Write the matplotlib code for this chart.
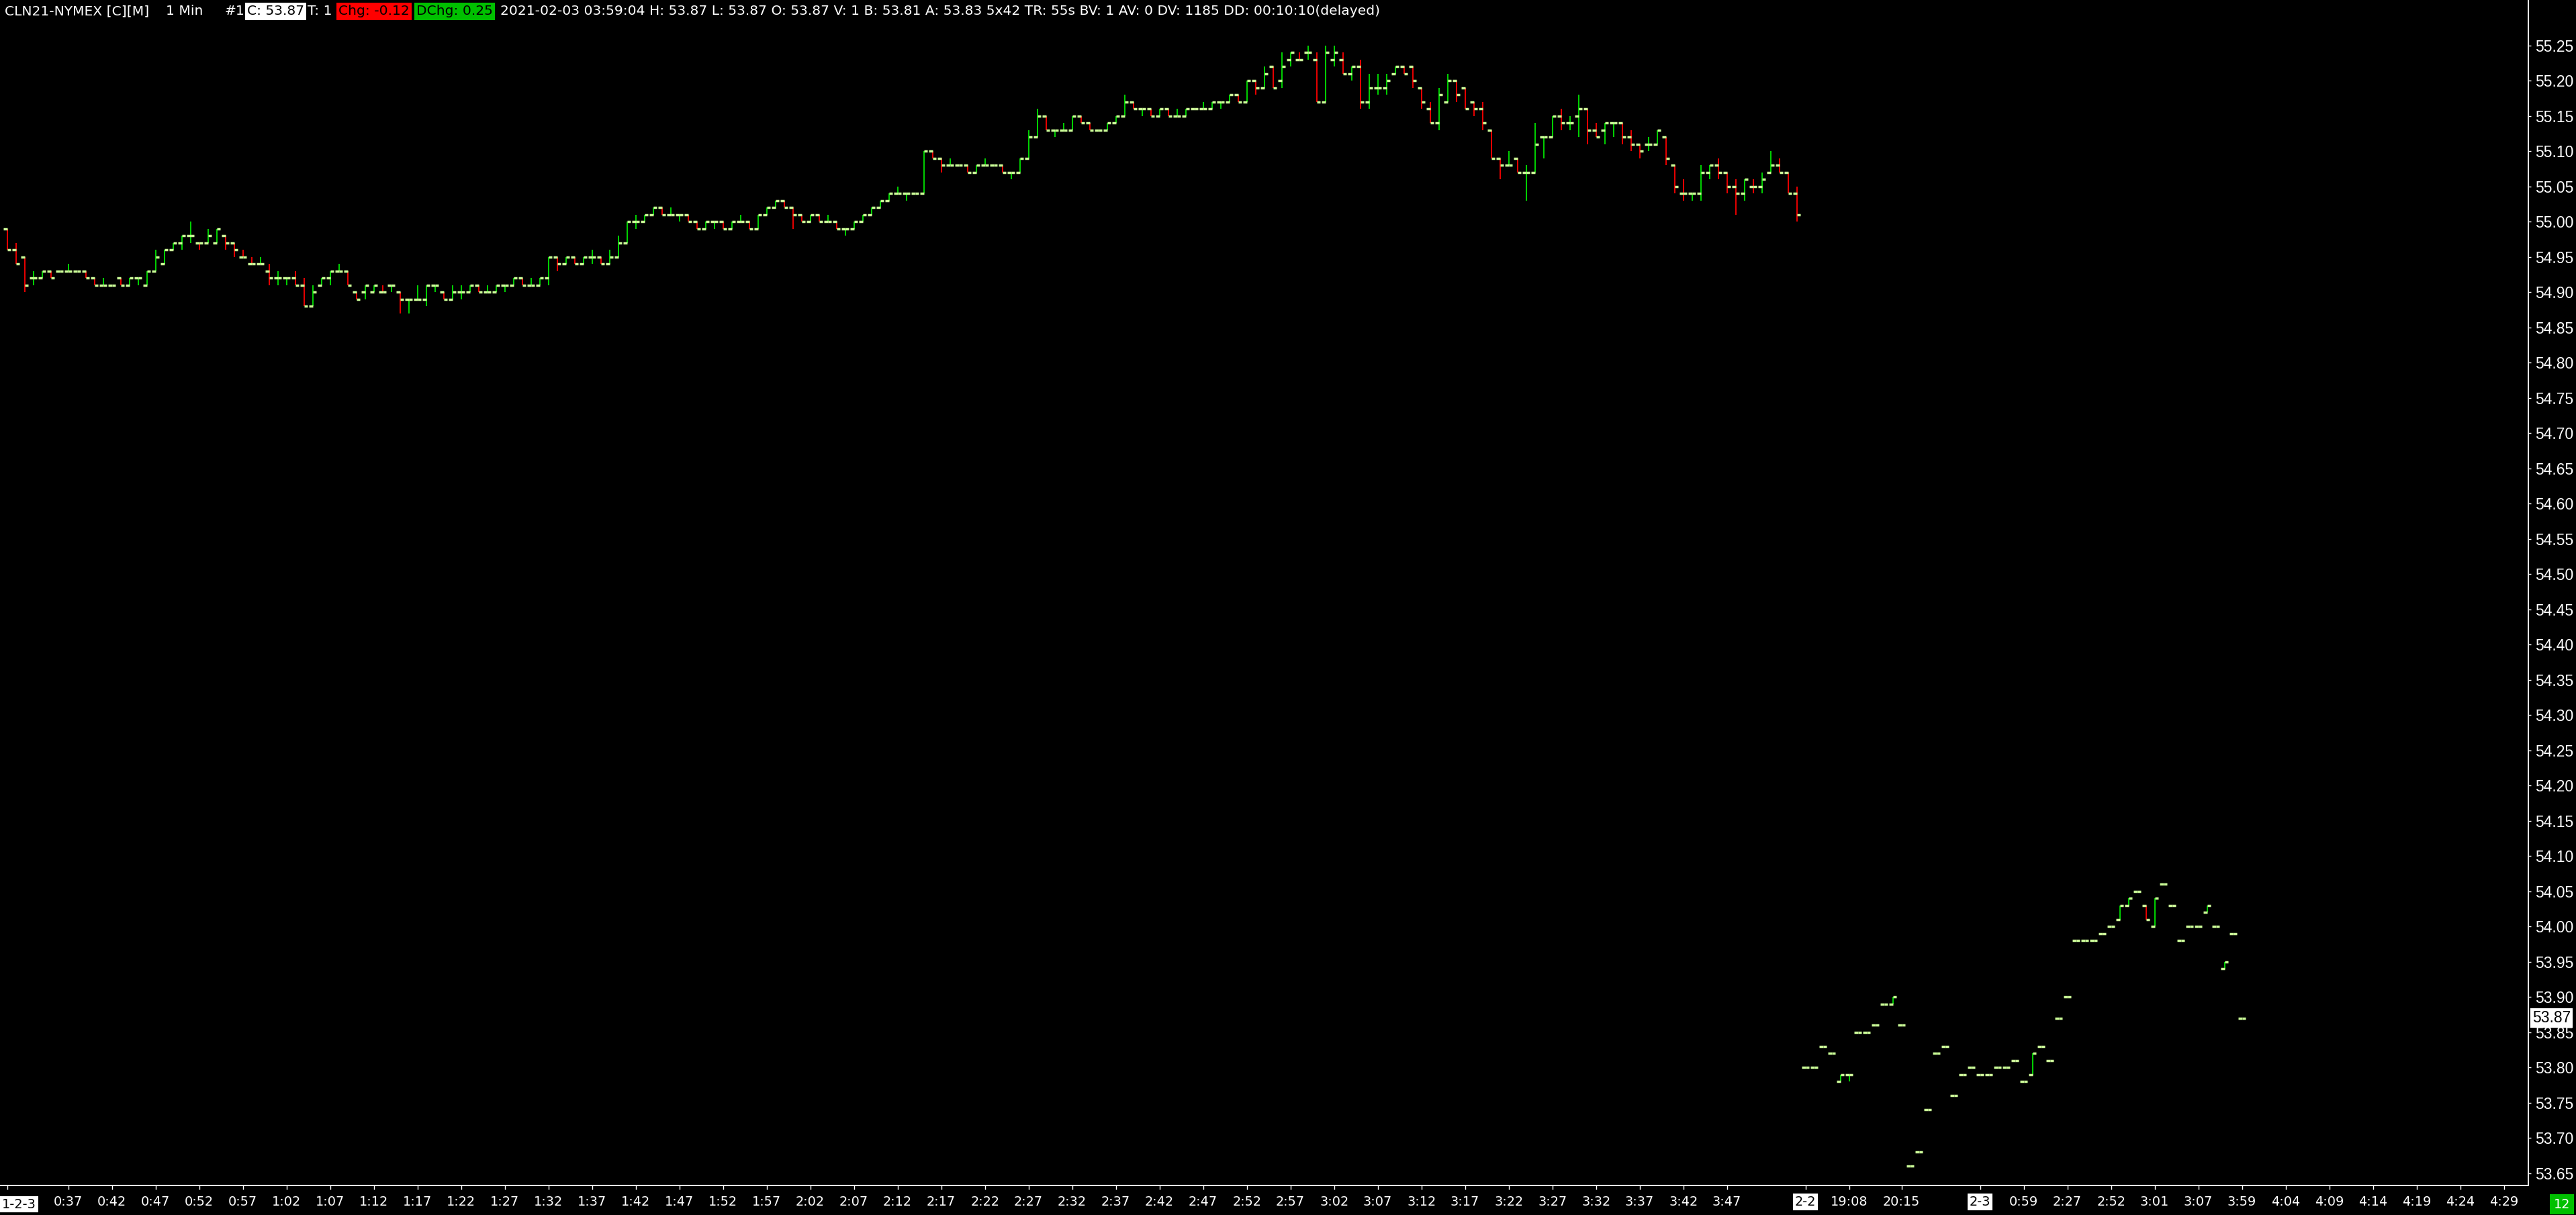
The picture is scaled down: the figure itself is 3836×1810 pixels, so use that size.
import numpy as np
import matplotlib
matplotlib.use("Agg")
import matplotlib.pyplot as plt
from matplotlib import font_manager

# ---- data: 1 min bars, first session (1-2-3 0:30 .. 3:55) ----
s1_open = [
    54.99, 54.96, 54.95, 54.92, 54.92, 54.93, 54.93, 54.93, 54.93, 54.93,
    54.92, 54.91, 54.91, 54.92, 54.91, 54.92, 54.91, 54.93, 54.94, 54.96,
    54.97, 54.98, 54.97, 54.97, 54.97, 54.98, 54.97, 54.95, 54.94, 54.94,
    54.93, 54.92, 54.92, 54.92, 54.91, 54.88, 54.91, 54.92, 54.93, 54.93,
    54.90, 54.90, 54.90, 54.90, 54.91, 54.90, 54.89, 54.89, 54.89, 54.91,
    54.90, 54.89, 54.90, 54.90, 54.91, 54.90, 54.90, 54.91, 54.91, 54.92,
    54.91, 54.91, 54.92, 54.95, 54.94, 54.95, 54.94, 54.95, 54.95, 54.94,
    54.95, 54.97, 55.00, 55.00, 55.01, 55.02, 55.01, 55.01, 55.01, 55.00,
    54.99, 55.00, 55.00, 54.99, 55.00, 55.00, 54.99, 55.01, 55.02, 55.03,
    55.02, 55.01, 55.00, 55.01, 55.00, 55.00, 54.99, 54.99, 55.00, 55.01,
    55.02, 55.03, 55.04, 55.04, 55.04, 55.04, 55.10, 55.09, 55.08, 55.08,
    55.08, 55.07, 55.08, 55.08, 55.08, 55.07, 55.07, 55.09, 55.12, 55.15,
    55.13, 55.13, 55.13, 55.15, 55.14, 55.13, 55.13, 55.14, 55.15, 55.17,
    55.16, 55.16, 55.15, 55.16, 55.15, 55.15, 55.16, 55.16, 55.16, 55.17,
    55.17, 55.18, 55.17, 55.20, 55.19, 55.22, 55.20, 55.23, 55.23, 55.24,
    55.23, 55.17, 55.23, 55.23, 55.21, 55.22, 55.17, 55.19, 55.19, 55.21,
    55.22, 55.22, 55.19, 55.16, 55.14, 55.17, 55.20, 55.19, 55.17, 55.16,
    55.13, 55.09, 55.08, 55.09, 55.07, 55.07, 55.12, 55.12, 55.15, 55.14,
    55.15, 55.16, 55.13, 55.13, 55.14, 55.14, 55.12, 55.11, 55.11, 55.11,
    55.12, 55.08, 55.04, 55.04, 55.04, 55.07, 55.08, 55.07, 55.05, 55.04,
    55.05, 55.05, 55.07, 55.08, 55.07, 55.04,
]
s1_high = [
    54.99, 54.97, 54.95, 54.93, 54.93, 54.93, 54.93, 54.94, 54.93, 54.93,
    54.92, 54.92, 54.91, 54.92, 54.92, 54.92, 54.93, 54.96, 54.96, 54.97,
    54.98, 55.00, 54.97, 54.99, 54.99, 54.98, 54.97, 54.96, 54.95, 54.95,
    54.94, 54.93, 54.92, 54.93, 54.92, 54.91, 54.92, 54.93, 54.94, 54.93,
    54.90, 54.91, 54.91, 54.91, 54.91, 54.90, 54.89, 54.91, 54.91, 54.91,
    54.90, 54.91, 54.91, 54.91, 54.91, 54.91, 54.91, 54.91, 54.92, 54.92,
    54.92, 54.92, 54.95, 54.95, 54.95, 54.95, 54.95, 54.96, 54.95, 54.96,
    54.98, 55.00, 55.01, 55.01, 55.02, 55.02, 55.02, 55.01, 55.01, 55.00,
    55.00, 55.00, 55.00, 55.00, 55.01, 55.00, 55.01, 55.02, 55.03, 55.03,
    55.02, 55.01, 55.01, 55.01, 55.01, 55.00, 54.99, 55.00, 55.01, 55.02,
    55.03, 55.04, 55.05, 55.04, 55.04, 55.10, 55.10, 55.09, 55.09, 55.08,
    55.08, 55.08, 55.09, 55.08, 55.08, 55.07, 55.09, 55.13, 55.16, 55.15,
    55.13, 55.14, 55.15, 55.15, 55.14, 55.13, 55.14, 55.15, 55.18, 55.17,
    55.16, 55.16, 55.16, 55.16, 55.16, 55.16, 55.16, 55.17, 55.17, 55.17,
    55.18, 55.18, 55.20, 55.20, 55.22, 55.22, 55.24, 55.24, 55.24, 55.25,
    55.24, 55.25, 55.25, 55.24, 55.22, 55.23, 55.21, 55.21, 55.21, 55.22,
    55.22, 55.22, 55.19, 55.17, 55.19, 55.21, 55.20, 55.19, 55.17, 55.17,
    55.13, 55.09, 55.10, 55.09, 55.08, 55.14, 55.12, 55.15, 55.16, 55.15,
    55.18, 55.16, 55.14, 55.14, 55.14, 55.14, 55.13, 55.11, 55.12, 55.13,
    55.12, 55.08, 55.06, 55.04, 55.08, 55.08, 55.09, 55.07, 55.06, 55.06,
    55.06, 55.07, 55.10, 55.09, 55.07, 55.05,
]
s1_low = [
    54.96, 54.94, 54.90, 54.91, 54.92, 54.92, 54.93, 54.93, 54.93, 54.92,
    54.91, 54.91, 54.91, 54.91, 54.91, 54.91, 54.91, 54.93, 54.94, 54.96,
    54.96, 54.97, 54.96, 54.97, 54.97, 54.96, 54.95, 54.95, 54.94, 54.94,
    54.91, 54.91, 54.91, 54.91, 54.88, 54.88, 54.91, 54.91, 54.93, 54.91,
    54.89, 54.89, 54.90, 54.90, 54.90, 54.87, 54.87, 54.89, 54.88, 54.90,
    54.89, 54.89, 54.89, 54.90, 54.90, 54.90, 54.90, 54.90, 54.91, 54.91,
    54.91, 54.91, 54.91, 54.93, 54.94, 54.94, 54.94, 54.94, 54.94, 54.94,
    54.95, 54.97, 54.99, 55.00, 55.01, 55.01, 55.01, 55.00, 55.00, 54.99,
    54.99, 54.99, 54.99, 54.99, 55.00, 54.99, 54.99, 55.01, 55.02, 55.02,
    54.99, 55.00, 55.00, 55.00, 55.00, 54.99, 54.98, 54.99, 55.00, 55.01,
    55.02, 55.03, 55.04, 55.03, 55.04, 55.04, 55.09, 55.07, 55.08, 55.08,
    55.07, 55.07, 55.08, 55.08, 55.07, 55.06, 55.07, 55.09, 55.12, 55.13,
    55.12, 55.13, 55.13, 55.14, 55.13, 55.13, 55.13, 55.14, 55.15, 55.16,
    55.15, 55.15, 55.15, 55.15, 55.15, 55.15, 55.16, 55.16, 55.16, 55.16,
    55.17, 55.17, 55.17, 55.18, 55.19, 55.19, 55.19, 55.22, 55.23, 55.23,
    55.17, 55.17, 55.22, 55.21, 55.20, 55.16, 55.16, 55.18, 55.18, 55.21,
    55.21, 55.19, 55.16, 55.14, 55.13, 55.17, 55.17, 55.16, 55.15, 55.13,
    55.09, 55.06, 55.08, 55.07, 55.03, 55.07, 55.09, 55.12, 55.13, 55.13,
    55.12, 55.11, 55.12, 55.11, 55.12, 55.11, 55.10, 55.09, 55.10, 55.11,
    55.08, 55.04, 55.03, 55.03, 55.03, 55.06, 55.06, 55.04, 55.01, 55.03,
    55.04, 55.04, 55.07, 55.07, 55.04, 55.00,
]
s1_close = [
    54.96, 54.94, 54.91, 54.92, 54.93, 54.92, 54.93, 54.93, 54.93, 54.92,
    54.91, 54.91, 54.91, 54.91, 54.92, 54.92, 54.93, 54.95, 54.96, 54.97,
    54.98, 54.98, 54.97, 54.98, 54.99, 54.97, 54.96, 54.95, 54.94, 54.94,
    54.92, 54.92, 54.92, 54.91, 54.88, 54.90, 54.92, 54.93, 54.93, 54.91,
    54.89, 54.91, 54.91, 54.90, 54.91, 54.89, 54.89, 54.89, 54.91, 54.91,
    54.89, 54.90, 54.90, 54.91, 54.90, 54.90, 54.91, 54.91, 54.92, 54.91,
    54.91, 54.92, 54.95, 54.94, 54.95, 54.94, 54.95, 54.95, 54.94, 54.95,
    54.97, 55.00, 55.00, 55.01, 55.02, 55.01, 55.01, 55.01, 55.00, 54.99,
    55.00, 55.00, 54.99, 55.00, 55.00, 54.99, 55.01, 55.02, 55.03, 55.02,
    55.01, 55.00, 55.01, 55.00, 55.00, 54.99, 54.99, 55.00, 55.01, 55.02,
    55.03, 55.04, 55.04, 55.04, 55.04, 55.10, 55.09, 55.08, 55.08, 55.08,
    55.07, 55.08, 55.08, 55.08, 55.07, 55.07, 55.09, 55.12, 55.15, 55.13,
    55.13, 55.13, 55.15, 55.14, 55.13, 55.13, 55.14, 55.15, 55.17, 55.16,
    55.16, 55.15, 55.16, 55.15, 55.15, 55.16, 55.16, 55.16, 55.17, 55.17,
    55.18, 55.17, 55.20, 55.19, 55.21, 55.19, 55.22, 55.24, 55.23, 55.24,
    55.17, 55.24, 55.24, 55.21, 55.22, 55.17, 55.19, 55.19, 55.20, 55.22,
    55.21, 55.20, 55.17, 55.14, 55.18, 55.20, 55.18, 55.16, 55.16, 55.14,
    55.09, 55.08, 55.08, 55.07, 55.07, 55.11, 55.12, 55.15, 55.14, 55.14,
    55.16, 55.13, 55.12, 55.14, 55.14, 55.12, 55.11, 55.10, 55.11, 55.13,
    55.09, 55.05, 55.04, 55.04, 55.07, 55.08, 55.07, 55.05, 55.04, 55.06,
    55.05, 55.06, 55.08, 55.07, 55.04, 55.01,
]

# ---- second session (2-2 evening .. 2-3 3:59), thin trading ----
s2_open = [
    53.80, 53.80, 53.83, 53.82, 53.78, 53.79, 53.85, 53.85, 53.86, 53.89,
    53.89, 53.86, 53.66, 53.68, 53.74, 53.82, 53.83, 53.76, 53.79, 53.80,
    53.79, 53.79, 53.80, 53.80, 53.81, 53.78, 53.79, 53.83, 53.81, 53.87,
    53.90, 53.98, 53.98, 53.98, 53.99, 54.00, 54.01, 54.03, 54.05, 54.03,
    54.00, 54.06, 54.03, 53.98, 54.00, 54.00, 54.02, 54.00, 53.94, 53.99,
    53.87,
]
s2_high = [
    53.80, 53.80, 53.83, 53.82, 53.79, 53.79, 53.85, 53.85, 53.86, 53.89,
    53.90, 53.86, 53.66, 53.68, 53.74, 53.82, 53.83, 53.76, 53.79, 53.80,
    53.79, 53.79, 53.80, 53.80, 53.81, 53.78, 53.82, 53.83, 53.81, 53.87,
    53.90, 53.98, 53.98, 53.98, 53.99, 54.00, 54.03, 54.04, 54.05, 54.03,
    54.04, 54.06, 54.03, 53.98, 54.00, 54.00, 54.03, 54.00, 53.95, 53.99,
    53.87,
]
s2_low = [
    53.80, 53.80, 53.83, 53.82, 53.78, 53.78, 53.85, 53.85, 53.86, 53.89,
    53.89, 53.86, 53.66, 53.68, 53.74, 53.82, 53.83, 53.76, 53.79, 53.80,
    53.79, 53.79, 53.80, 53.80, 53.81, 53.78, 53.79, 53.83, 53.81, 53.87,
    53.90, 53.98, 53.98, 53.98, 53.99, 54.00, 54.01, 54.03, 54.05, 54.01,
    54.00, 54.06, 54.03, 53.98, 54.00, 54.00, 54.02, 54.00, 53.94, 53.99,
    53.87,
]
s2_close = [
    53.80, 53.80, 53.83, 53.82, 53.79, 53.79, 53.85, 53.85, 53.86, 53.89,
    53.90, 53.86, 53.66, 53.68, 53.74, 53.82, 53.83, 53.76, 53.79, 53.80,
    53.79, 53.79, 53.80, 53.80, 53.81, 53.78, 53.82, 53.83, 53.81, 53.87,
    53.90, 53.98, 53.98, 53.98, 53.99, 54.00, 54.03, 54.04, 54.05, 54.01,
    54.04, 54.06, 54.03, 53.98, 54.00, 54.00, 54.03, 54.00, 53.95, 53.99,
    53.87,
]

# x axis: bar index of each labelled tick and its text
s1_tick_labels = [
    "0:37", "0:42", "0:47", "0:52", "0:57", "1:02", "1:07", "1:12", "1:17", "1:22",
    "1:27", "1:32", "1:37", "1:42", "1:47", "1:52", "1:57", "2:02", "2:07", "2:12",
    "2:17", "2:22", "2:27", "2:32", "2:37", "2:42", "2:47", "2:52", "2:57", "3:02",
    "3:07", "3:12", "3:17", "3:22", "3:27", "3:32", "3:37", "3:42", "3:47",
]
s2_tick_bars = [206, 211, 217, 226, 231, 236, 241, 246, 251, 256, 261, 266, 271, 276, 281, 286]
s2_tick_labels = ["2-2", "19:08", "20:15", "2-3", "0:59", "2:27", "2:52", "3:01", "3:07",
                  "3:59", "4:04", "4:09", "4:14", "4:19", "4:24", "4:29"]
date_labels = ["2-2", "2-3"]

price_ticks = np.round(np.arange(53.65, 55.2501, 0.05), 2)
last_price = 53.87
header_items = [
    ("CLN21-NYMEX [C][M]", None), ("1 Min", None), ("#1", None),
    ("C: 53.87", "white"), ("T: 1", None), ("Chg: -0.12", "#ff0000"),
    ("DChg: 0.25", "#00c000"),
    ("2021-02-03 03:59:04 H: 53.87 L: 53.87 O: 53.87 V: 1 B: 53.81 A: 53.83 5x42 "
     "TR: 55s BV: 1 AV: 0 DV: 1185 DD: 00:10:10(delayed)", None),
]
header_x = [7, 247, 334, 368, 458, 504, 620, 745]

TICK_COL = "#ccff99"
UP_COL = "#00e600"
DOWN_COL = "#ff0000"


def has_font(name):
    try:
        font_manager.findfont(name, fallback_to_default=False)
        return True
    except ValueError:
        return False


if has_font("Liberation Sans Narrow"):
    narrow, nscale = "Liberation Sans Narrow", 1.0
else:
    narrow, nscale = "DejaVu Sans", 0.71
wide = "Liberation Sans" if has_font("Liberation Sans") else "DejaVu Sans"

W, H = 3836, 1810
fig = plt.figure(figsize=(W / 100, H / 100), dpi=100, facecolor="black")
ax = fig.add_axes([0, 44 / H, 3765 / W, 1 - 44 / H], facecolor="black")


def px(x, y):
    return x / W, 1 - y / H


o = np.array(s1_open + s2_open)
hi = np.array(s1_high + s2_high)
lo = np.array(s1_low + s2_low)
c = np.array(s1_close + s2_close)
x = np.arange(len(c))

# wick colour: close vs open, ties decided by previous close
prev = np.concatenate([[c[0]], c[:-1]])
up = (c > o) | ((c == o) & (c >= prev))
cols = np.where(up, UP_COL, DOWN_COL)
rng = hi > lo
wicks = ax.vlines(x[rng], lo[rng], hi[rng], colors=cols[rng], linewidth=1.3, zorder=2)
ot = ax.hlines(o, x - 0.43, x, color=TICK_COL, linewidth=2.5, zorder=3)
ct = ax.hlines(c, x, x + 0.43, color=TICK_COL, linewidth=2.5, zorder=3)
for coll in (wicks, ot, ct):
    coll.set_capstyle("butt")

ax.set_xlim(-0.815, 288.8)
ax.set_ylim(53.6326, 55.3145)

# axes styling
for side in ("left", "top"):
    ax.spines[side].set_visible(False)
for side in ("right", "bottom"):
    ax.spines[side].set_color("white")
    ax.spines[side].set_linewidth(1.3)

ax.yaxis.tick_right()
ax.set_yticks(price_ticks)
ax.set_yticklabels([f"{p:.2f}" for p in price_ticks], fontfamily=wide, fontsize=16.5)
ax.tick_params(axis="y", colors="white", length=3, width=1, pad=4)

tick_pos = [0] + list(range(7, 198, 5)) + s2_tick_bars
tick_txt = [""] + s1_tick_labels + s2_tick_labels
ax.set_xticks(tick_pos)
ax.set_xticklabels(tick_txt, fontfamily=narrow, fontsize=19.5 * nscale)
ax.tick_params(axis="x", colors="white", length=4, width=1, pad=7)
for lbl in ax.get_xticklabels():
    if lbl.get_text() in date_labels:
        lbl.set_color("black")
        lbl.set_bbox(dict(boxstyle="square,pad=0.15", fc="white", ec="none"))

# first date label sits at the left edge
fig.text(*px(3, 1794), "1-2-3", ha="left", va="center", color="black",
         fontfamily=narrow, fontsize=19.5 * nscale,
         bbox=dict(boxstyle="square,pad=0.15", fc="white", ec="none"))

# last price marker on the price scale
ax.text(1 + 6 / 3765, last_price, f"{last_price:.2f}", transform=ax.get_yaxis_transform(),
        ha="left", va="center", color="black", fontfamily=wide, fontsize=16.5, zorder=5,
        clip_on=False, bbox=dict(boxstyle="square,pad=0.12", fc="white", ec="none"))

# bar counter box at bottom right
fig.text(*px(3815, 1794), "12", ha="center", va="center", color="white",
         fontfamily=narrow, fontsize=19.5 * nscale,
         bbox=dict(boxstyle="square,pad=0.3", fc="#00c000", ec="none"))

# header line
for (txt, box), hx in zip(header_items, header_x):
    kw = {}
    col = "white"
    if box is not None:
        col = "black"
        kw["bbox"] = dict(boxstyle="square,pad=0.15", fc=box, ec="none")
    fig.text(*px(hx, 17), txt, ha="left", va="center", color=col,
             fontfamily=narrow, fontsize=20.5 * nscale, **kw)

fig.savefig("out.png", dpi=100, facecolor="black")
